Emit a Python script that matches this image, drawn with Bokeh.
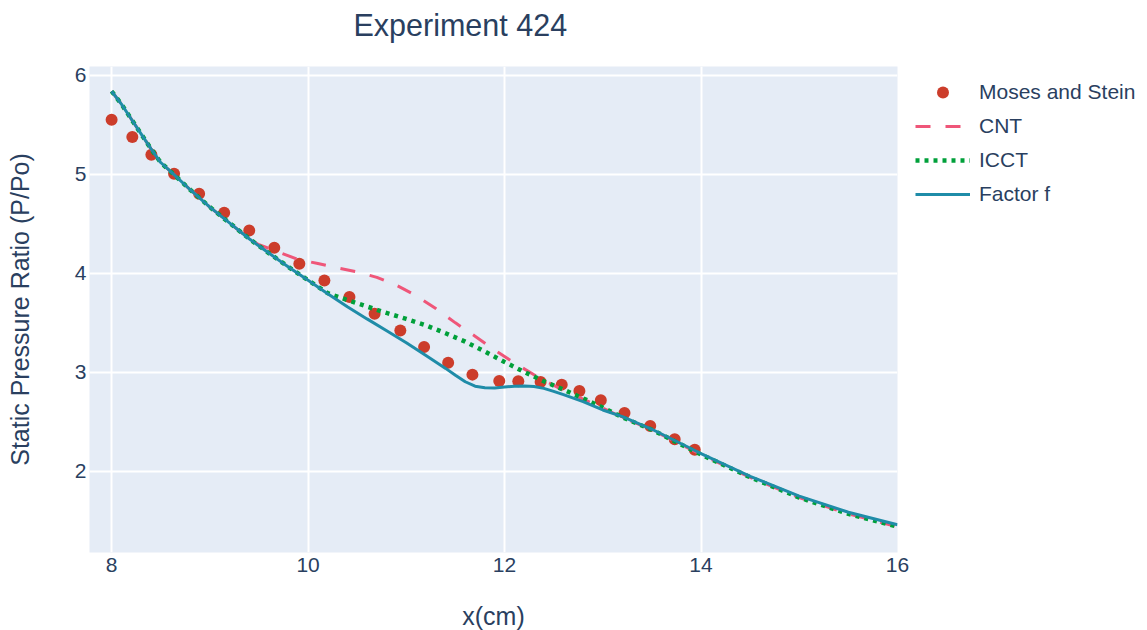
from bokeh.plotting import figure
from bokeh.models import Legend, LegendItem, Title, FixedTicker, Range1d
from bokeh.embed import file_html
from bokeh.resources import INLINE

# ---------------- data ----------------
moses_x = [8.00, 8.211, 8.405, 8.636, 8.891, 9.146, 9.401, 9.656, 9.911, 10.166,
           10.421, 10.677, 10.939, 11.181, 11.426, 11.673, 11.946, 12.140, 12.367,
           12.582, 12.762, 12.980, 13.221, 13.483, 13.732, 13.936]
moses_y = [5.553, 5.377, 5.199, 5.007, 4.805, 4.613, 4.434, 4.260, 4.098, 3.929,
           3.761, 3.593, 3.424, 3.256, 3.098, 2.977, 2.912, 2.909, 2.902,
           2.876, 2.811, 2.717, 2.589, 2.458, 2.323, 2.219]

factor_x = [8.0, 8.1, 8.2, 8.3, 8.4, 8.5, 8.6, 8.8, 9.0, 9.2, 9.4, 9.6, 9.8, 10.0,
            10.2, 10.4, 10.6, 10.8, 11.0, 11.2, 11.4, 11.5, 11.6, 11.7, 11.8, 11.9,
            12.0, 12.1, 12.2, 12.3, 12.4, 12.5, 12.6, 12.8, 13.0, 13.2, 13.5, 14.0,
            14.5, 15.0, 15.5, 16.0]
factor_y = [5.84, 5.71, 5.56, 5.41, 5.26, 5.12, 5.03, 4.845, 4.67, 4.51, 4.35, 4.205,
            4.065, 3.93, 3.795, 3.663, 3.54, 3.42, 3.30, 3.17, 3.04, 2.97, 2.905,
            2.86, 2.845, 2.843, 2.852, 2.86, 2.863, 2.858, 2.838, 2.808, 2.775, 2.705,
            2.62, 2.553, 2.425, 2.18, 1.95, 1.75, 1.587, 1.46]

icct_x = [8.0, 8.1, 8.2, 8.3, 8.4, 8.5, 8.6, 8.8, 9.0, 9.2, 9.4, 9.6, 9.8, 10.0,
          10.2, 10.4, 10.6, 10.8, 11.0, 11.2, 11.4, 11.6, 11.8, 12.0, 12.2, 12.4,
          12.6, 12.8, 13.0, 13.2, 13.5, 14.0, 14.5, 15.0, 15.5, 16.0]
icct_y = [5.84, 5.71, 5.56, 5.41, 5.26, 5.12, 5.03, 4.845, 4.67, 4.51, 4.35, 4.205,
          4.065, 3.93, 3.80, 3.73, 3.665, 3.60, 3.54, 3.475, 3.395, 3.31, 3.21, 3.105,
          3.005, 2.91, 2.825, 2.737, 2.645, 2.545, 2.42, 2.17, 1.94, 1.735, 1.57, 1.44]

cnt_x = [8.0, 8.1, 8.2, 8.3, 8.4, 8.5, 8.6, 8.8, 9.0, 9.2, 9.4, 9.5, 9.7, 9.9, 10.1,
         10.3, 10.5, 10.7, 10.9, 11.1, 11.3, 11.5, 11.7, 11.9, 12.1, 12.3, 12.5,
         12.6, 12.8, 13.0, 13.2, 13.5, 14.0, 14.5, 15.0, 15.5, 16.0]
cnt_y = [5.84, 5.71, 5.56, 5.41, 5.26, 5.12, 5.03, 4.845, 4.67, 4.51, 4.35, 4.29,
         4.215, 4.14, 4.10, 4.055, 4.015, 3.96, 3.88, 3.775, 3.645, 3.50, 3.365, 3.225,
         3.095, 2.975, 2.87, 2.815, 2.73, 2.64, 2.545, 2.42, 2.17, 1.94, 1.735, 1.57, 1.44]

x_ticks = [8, 10, 12, 14, 16]
y_ticks = [2, 3, 4, 5, 6]

# ---------------- style ----------------
FONT = "Liberation Sans"
TXT = "#2a3f5f"

p = figure(frame_width=808, frame_height=486,
           x_range=Range1d(7.775, 16.0), y_range=Range1d(1.18, 6.09),
           output_backend="svg", toolbar_location=None,
           min_border_left=89, min_border_right=250, min_border_top=66,
           min_border_bottom=78,
           background_fill_color="#E5ECF6", border_fill_color="white")
p.outline_line_color = None

p.xaxis.ticker = FixedTicker(ticks=x_ticks)
p.yaxis.ticker = FixedTicker(ticks=y_ticks)
for ax in (p.xaxis[0], p.yaxis[0]):
    ax.axis_line_color = None
    ax.major_tick_line_color = None
    ax.minor_tick_line_color = None
    ax.major_tick_out = 0
    ax.major_tick_in = 0
    ax.major_label_text_font = FONT
    ax.major_label_text_font_size = "21px"
    ax.major_label_text_color = TXT
    ax.axis_label_text_font = FONT
    ax.axis_label_text_font_size = "25px"
    ax.axis_label_text_color = TXT
    ax.axis_label_text_font_style = "normal"

p.xaxis.axis_label = "x(cm)"
p.yaxis.axis_label = "Static Pressure Ratio (P/Po)"
p.xaxis.major_label_standoff = 5
p.xaxis.axis_label_standoff = 27
p.yaxis.major_label_standoff = 3
p.yaxis.axis_label_standoff = 38

p.grid.grid_line_color = "white"
p.grid.grid_line_width = 2

r_m = p.scatter(moses_x, moses_y, size=12, color="#cc3d2b", line_width=0)
r_c = p.line(cnt_x, cnt_y, line_color="#ef5679", line_width=3, line_dash="15 15")
r_i = p.line(icct_x, icct_y, line_color="#00a03a", line_width=4.5, line_dash="4 5")
r_f = p.line(factor_x, factor_y, line_color="#1f8ca8", line_width=3)

legend = Legend(items=[LegendItem(label="Moses and Stein", renderers=[r_m]),
                       LegendItem(label="CNT", renderers=[r_c]),
                       LegendItem(label="ICCT", renderers=[r_i]),
                       LegendItem(label="Factor f", renderers=[r_f])],
                location=(18, 343), glyph_width=55, glyph_height=30,
                label_height=20, spacing=4, padding=0, margin=0,
                label_standoff=9, label_text_font=FONT,
                label_text_font_size="21px", label_text_color=TXT,
                background_fill_alpha=0, border_line_color=None)
p.add_layout(legend, "right")

# spacer panel between frame and title, then the title itself
spacer = Title(text=" ", text_font_size="10px", standoff=12, text_font=FONT)
p.add_layout(spacer, "above")
title = Title(text="Experiment 424", align="left", offset=264, standoff=0,
              text_font=FONT, text_font_size="30.5px", text_color=TXT,
              text_font_style="normal")
p.add_layout(title, "above")

open("out.html", "w").write(file_html(p, INLINE))
